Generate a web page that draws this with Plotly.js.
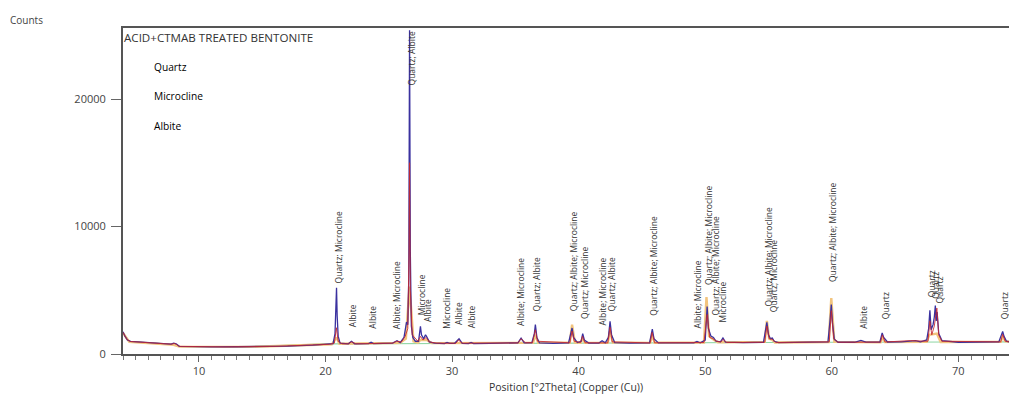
<!DOCTYPE html>
<html>
<head>
<meta charset="utf-8">
<script src="https://cdn.plot.ly/plotly-3.0.1.min.js"></script>
<style>html,body{margin:0;padding:0;background:#fff;}#chart{width:1009px;height:398px;}</style>
</head>
<body>
<div id="chart"></div>
<script>
// ---- Data ----
const xBlue = [4.0,4.15,4.35,4.6,5.5,6.5,7.3,7.8,8.0,8.2,8.45,9.5,11,13,15,17,19,20.3,
  20.6,20.75,20.83,20.87,20.92,21.0,21.15,21.8,22.05,22.3,23.4,23.6,23.8,
  24.8,25.3,25.65,25.9,26.2,26.4,26.5,26.58,26.64,26.7,26.78,26.9,27.1,27.35,27.5,27.58,27.75,27.9,28.0,28.2,28.6,
  29.4,29.6,29.8,30.2,30.45,30.55,30.8,31.3,31.5,31.7,
  33,34.5,35.2,35.45,35.7,36.3,36.5,36.58,36.7,36.9,
  38,39.2,39.38,39.48,39.6,39.9,40.2,40.32,40.45,40.8,
  41.6,41.85,42.1,42.35,42.48,42.6,42.85,
  44,45.6,45.72,45.82,45.95,46.3,
  48,49.1,49.35,49.6,50.0,50.08,50.15,50.25,50.45,50.65,50.85,51.2,51.4,51.6,
  53,54.6,54.78,54.87,55.0,55.15,55.3,55.45,55.8,
  57.5,59.7,59.85,59.96,60.05,60.2,60.5,
  61.8,62.3,62.7,63.8,63.98,64.1,64.4,
  65.5,66.2,66.6,67.0,67.5,67.65,67.75,67.85,68.0,68.1,68.18,68.25,68.32,68.45,68.7,
  70,72,73.2,73.4,73.5,73.6,73.8,74.0];
const yBlue = [1750,1400,1100,990,930,880,830,780,850,800,600,560,560,570,590,620,690,760,
  820,1600,4200,5200,3000,1400,850,800,1000,800,810,930,810,
  820,860,1040,900,1300,2500,2300,6000,25400,8000,2200,1300,1000,1000,2170,1500,1200,1510,1350,950,860,
  820,910,830,840,1150,1200,840,820,910,820,
  830,840,880,1250,880,880,1600,2300,1300,880,
  840,880,1500,2040,1300,900,1000,1590,1100,860,
  860,1040,870,1300,2560,1500,900,
  860,870,1500,1960,1200,870,
  870,880,990,880,1100,2800,3730,2000,1400,1300,1000,950,1250,930,
  890,920,1900,2480,1500,1200,1250,1000,900,
  900,950,2500,3870,2500,1150,920,
  920,1070,930,940,1650,1300,940,
  950,1050,1050,960,1100,2000,3420,1900,2300,2900,3800,2600,3300,1600,1050,
  920,930,960,1500,1770,1400,1000,960];

const xRed = [4.0,4.3,4.6,6,7.8,8.1,8.45,12,16,20.3,20.7,20.86,21.0,21.3,21.8,22.05,22.4,
  25.3,25.6,26.0,26.3,26.5,26.6,26.64,26.7,26.85,27.3,27.5,27.7,27.95,28.2,28.8,
  30.3,30.5,30.8,35.2,35.45,35.8,36.35,36.58,36.75,39.3,39.48,39.65,40.15,40.3,40.5,
  42.3,42.48,42.65,45.65,45.8,46.0,49.9,50.15,50.35,50.6,50.9,51.25,51.4,51.7,
  54.7,54.87,55.05,55.3,55.6,59.8,59.96,60.15,60.5,63.85,64.0,64.2,66.2,67.6,67.75,67.9,68.1,68.3,68.45,68.7,
  73.35,73.5,73.7,74];
const yRed = [1700,1150,980,880,770,830,600,560,600,760,850,2060,1000,800,800,950,800,
  850,1000,950,1400,2000,8000,15000,5000,1500,1000,1380,1100,1300,950,850,
  840,1100,850,870,1200,880,900,1900,1000,880,1800,1000,900,1400,880,
  870,2100,950,870,1700,880,900,3100,1300,1200,1000,950,1150,900,
  920,2200,1200,1150,900,950,3400,1200,920,930,1500,940,1050,1000,2600,1500,2200,3600,1500,1000,
  950,1550,1000,960];

const xOrange = [4.0,4.5,8.0,8.45,14,20.5,20.86,21.1,25.9,26.35,26.64,26.95,27.3,27.5,28.0,28.4,
  36.4,36.58,36.8,39.3,39.48,39.7,40.15,40.3,40.5,42.3,42.48,42.7,45.65,45.82,46.0,
  49.9,50.1,50.3,50.7,51.0,54.7,54.87,55.05,55.3,55.5,59.75,59.96,60.2,
  63.85,64.0,64.2,67.5,67.7,68.3,68.6,73.35,73.5,73.7,74];
const yOrange = [1650,950,720,580,560,760,1300,800,870,1200,5280,1000,900,1100,1100,850,
  880,1500,880,900,2300,900,880,1200,870,880,1800,900,870,1500,880,
  900,4470,1400,1100,920,950,2600,1200,1100,900,940,4390,950,
  920,1300,930,950,1500,1600,940,950,1400,1000,960];

const xGreen = [4.0,4.5,8.0,8.5,14,20,30,40,50,60,70,74];
const yGreen = [1700,960,760,590,575,790,825,870,895,920,940,950];

const phases = ["Quartz", "Microcline", "Albite"];
const chartTitle = "ACID+CTMAB TREATED BENTONITE";

const labelText = ["Quartz; Microcline","Albite","Albite","Albite; Microcline","Quartz; Albite",
  "Microcline","Albite","Microcline","Albite","Albite","Albite; Microcline","Quartz; Albite",
  "Quartz; Albite; Microcline","Quartz; Microcline","Albite; Microcline","Quartz; Albite",
  "Quartz; Albite; Microcline","Albite; Microcline","Quartz; Albite; Microcline","Quartz; Albite; Microcline",
  "Microcline","Quartz; Albite; Microcline","Quartz; Microcline","Quartz; Albite; Microcline",
  "Albite","Quartz","Quartz","Quartz","Quartz","Quartz"];
const labelPos = [21.0,22.15,23.7,25.6,26.77,27.55,28.05,29.55,30.55,31.5,35.4,36.7,
  39.6,40.4,41.85,42.6,45.9,49.4,50.26,50.78,51.4,55.0,55.4,60.1,62.5,64.2,67.9,68.2,68.5,73.6];
const labelBase = [5430,2040,1900,1900,21000,2920,2430,1900,2160,1900,2160,3250,
  3250,2690,2160,3230,2950,1900,5290,2950,2430,3600,3210,5570,1900,2690,4390,4260,3870,2690];

// ---- Chart ----
const font = "Open Sans, Noto Sans, sans-serif";
const traces = [
  {x: xGreen, y: yGreen, mode: "lines", line: {color: "#8fd6a4", width: 1.2}, hoverinfo: "skip"},
  {x: xOrange, y: yOrange, mode: "lines", line: {color: "#f2c47e", width: 2.4}, hoverinfo: "skip"},
  {x: xBlue, y: yBlue, mode: "lines", line: {color: "#3a319f", width: 1.3}, hoverinfo: "skip"},
  {x: xRed, y: yRed, mode: "lines", line: {color: "#c4262e", width: 1.0}, opacity: 0.85, hoverinfo: "skip"}
];

const annotations = [];
for (let i = 0; i < labelText.length; i++) {
  annotations.push({x: labelPos[i], y: labelBase[i], xref: "x", yref: "y", text: labelText[i],
    textangle: -90, showarrow: false, xanchor: "center", yanchor: "bottom",
    font: {family: font, size: 8.5, color: "#333"}, borderpad: 0});
}
annotations.push({xref: "paper", yref: "paper", x: -0.001, y: 1.0, xanchor: "left", yanchor: "top",
  text: chartTitle, showarrow: false, font: {family: font, size: 11.6, color: "#333"}});
const legY = [0.88, 0.79, 0.70];
phases.forEach((p, i) => annotations.push({xref: "paper", yref: "paper", x: 0.033, y: legY[i],
  xanchor: "left", yanchor: "middle", text: p, showarrow: false, font: {family: font, size: 10.2, color: "#000"}}));
annotations.push({xref: "paper", yref: "paper", x: -0.13, y: 1.025, xanchor: "left", yanchor: "middle",
  text: "Counts", showarrow: false, font: {family: font, size: 10, color: "#444"}});

const layout = {
  width: 1009, height: 398,
  margin: {l: 123, r: 0, t: 28, b: 44},
  paper_bgcolor: "#fff", plot_bgcolor: "#fff",
  showlegend: false,
  font: {family: font, color: "#444", size: 11},
  xaxis: {
    range: [4, 74], showgrid: false, zeroline: false,
    showline: true, mirror: true, linecolor: "#555", linewidth: 2,
    tickvals: [10,20,30,40,50,60,70], ticks: "outside", ticklen: 6, tickcolor: "#666",
    minor: {dtick: 1, tick0: 0, ticks: "outside", ticklen: 4, tickcolor: "#777"},
    tickfont: {family: font, size: 11, color: "#444"},
    title: {text: "Position [°2Theta] (Copper (Cu))", font: {family: font, size: 10.5, color: "#333"}, standoff: 6}
  },
  yaxis: {
    range: [0, 25570], showgrid: false, zeroline: false,
    showline: true, mirror: false, linecolor: "#555", linewidth: 2,
    tickvals: [0, 10000, 20000], tickformat: "d", ticks: "outside", ticklen: 10, tickcolor: "#666",
    ticklabelstandoff: 3,
    tickfont: {family: font, size: 11, color: "#444"}
  },
  annotations: annotations
};

Plotly.newPlot("chart", traces, layout, {staticPlot: true, displayModeBar: false});
</script>
</body>
</html>
